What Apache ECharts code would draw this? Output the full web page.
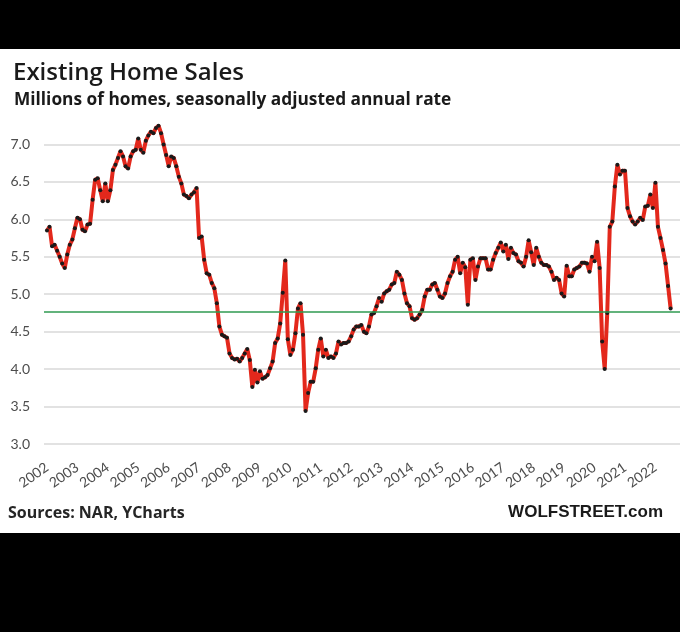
<!DOCTYPE html>
<html><head><meta charset="utf-8">
<script src="https://cdn.jsdelivr.net/npm/echarts@6/dist/echarts.min.js"></script>
<style>
html,body{margin:0;padding:0;background:#000;width:680px;height:632px;overflow:hidden}
#panel{position:absolute;left:0;top:49px;width:680px;height:484px;background:#fff}
#chart{width:680px;height:484px}
</style></head><body>
<div id="panel"><div id="chart"></div></div>
<script>
// Existing home sales, millions, SAAR, monthly Jan 2002 - Jul 2022
const yearLabels = ['2002','2003','2004','2005','2006','2007','2008','2009','2010','2011','2012',
  '2013','2014','2015','2016','2017','2018','2019','2020','2021','2022'];
const s2002 = [5.85,5.90,5.64,5.66,5.58,5.50,5.41,5.35,5.53,5.66,5.73,5.88];
const s2003 = [6.02,6.00,5.86,5.84,5.93,5.94,6.26,6.53,6.55,6.39,6.24,6.48];
const s2004 = [6.24,6.39,6.66,6.73,6.82,6.91,6.84,6.71,6.68,6.84,6.91,6.93];
const s2005 = [7.08,6.93,6.89,7.05,7.12,7.17,7.15,7.22,7.25,7.15,7.00,6.86];
const s2006 = [6.71,6.84,6.82,6.71,6.57,6.48,6.33,6.31,6.28,6.33,6.36,6.42];
const s2007 = [5.75,5.77,5.46,5.28,5.26,5.15,5.08,4.88,4.57,4.46,4.44,4.42];
const s2008 = [4.21,4.15,4.13,4.14,4.10,4.15,4.21,4.27,4.12,3.76,3.99,3.82];
const s2009 = [3.97,3.87,3.89,3.92,4.01,4.10,4.35,4.41,4.61,5.02,5.45,4.40];
const s2010 = [4.19,4.26,4.48,4.81,4.88,4.46,3.44,3.68,3.83,3.83,4.01,4.26];
const s2011 = [4.41,4.17,4.26,4.15,4.17,4.15,4.21,4.37,4.33,4.35,4.35,4.37];
const s2012 = [4.44,4.53,4.57,4.57,4.59,4.50,4.48,4.57,4.73,4.75,4.84,4.95];
const s2013 = [4.90,5.01,5.04,5.06,5.13,5.15,5.30,5.26,5.19,5.01,4.88,4.84];
const s2014 = [4.68,4.66,4.68,4.73,4.79,4.97,5.06,5.06,5.13,5.15,5.06,4.97];
const s2015 = [4.95,5.01,5.15,5.24,5.30,5.46,5.50,5.28,5.42,5.36,4.86,5.46];
const s2016 = [5.48,5.19,5.37,5.48,5.48,5.48,5.33,5.33,5.46,5.55,5.62,5.69];
const s2017 = [5.57,5.66,5.47,5.62,5.55,5.53,5.44,5.42,5.37,5.50,5.72,5.56];
const s2018 = [5.39,5.62,5.50,5.42,5.39,5.39,5.37,5.30,5.19,5.22,5.19,5.01];
const s2019 = [4.97,5.38,5.24,5.24,5.33,5.35,5.37,5.42,5.42,5.41,5.30,5.50];
const s2020 = [5.44,5.70,5.35,4.37,4.00,4.75,5.90,5.97,6.44,6.73,6.60,6.65];
const s2021 = [6.65,6.15,6.04,5.97,5.93,5.97,6.02,5.99,6.17,6.18,6.33,6.15];
const s2022 = [6.49,5.90,5.75,5.59,5.41,5.11,4.81];
const referenceLevel = 4.77; // green horizontal line

const monthly = [].concat(s2002,s2003,s2004,s2005,s2006,s2007,s2008,s2009,s2010,s2011,s2012,
  s2013,s2014,s2015,s2016,s2017,s2018,s2019,s2020,s2021,s2022);
const seriesData = monthly.map((v,i)=>[i,v]);

const FONT = '"Open Sans", Lato, sans-serif';
const LFONT = 'Lato, "Open Sans", sans-serif';
const chart = echarts.init(document.getElementById('chart'), null, {renderer:'canvas'});
chart.setOption({
  backgroundColor:'#fff',
  animation:false,
  title:[
    {text:'Existing Home Sales', left:13, top:12, padding:0,
     textStyle:{fontFamily:FONT, fontSize:24, fontWeight:600, color:'#1a1a1a'}},
    {text:'Millions of homes, seasonally adjusted annual rate', left:14, top:43, padding:0,
     textStyle:{fontFamily:FONT, fontSize:17.3, fontWeight:'bold', color:'#1a1a1a'}},
    {text:'Sources: NAR, YCharts', left:8, top:456, padding:0,
     textStyle:{fontFamily:FONT, fontSize:16, fontWeight:'bold', color:'#262626'}},
    {text:'WOLFSTREET.com', right:17, top:455, padding:0,
     textStyle:{fontFamily:'"Liberation Sans", Arial, sans-serif', fontSize:17, fontWeight:'bold', color:'#1a1a1a'}}
  ],
  grid:{left:44, right:0, top:58, height:337, containLabel:false},
  xAxis:{
    type:'value', min:-1.18, max:249.7,
    axisLine:{show:false}, axisTick:{show:false}, splitLine:{show:false},
    axisLabel:{
      customValues: yearLabels.map((y,k)=>k*12),
      formatter: v => yearLabels[Math.round(v/12)],
      rotate:35, margin:22, fontSize:14, color:'#4d4d4d', fontFamily:LFONT
    }
  },
  yAxis:{
    type:'value', min:3, max:7.5, interval:0.5,
    axisLine:{show:false}, axisTick:{show:false},
    axisLabel:{formatter:v=>v.toFixed(1), showMaxLabel:false, margin:14, fontSize:14, color:'#4d4d4d', fontFamily:LFONT},
    splitLine:{show:true, showMaxLine:false, lineStyle:{color:'#d9d9d9', width:1.5}}
  },
  series:[{
    type:'line', data:seriesData,
    symbol:'circle', symbolSize:4, showAllSymbol:true,
    itemStyle:{color:'#1a1a1a'},
    lineStyle:{color:'#e3281c', width:4},
    markLine:{
      silent:true, symbol:'none', label:{show:false},
      emphasis:{disabled:true},
      lineStyle:{color:'#2f9a50', width:1.5, type:'solid', opacity:1},
      data:[{yAxis:referenceLevel, lineStyle:{color:'#2f9a50'}}]
    }
  }]
});
</script>
</body></html>
